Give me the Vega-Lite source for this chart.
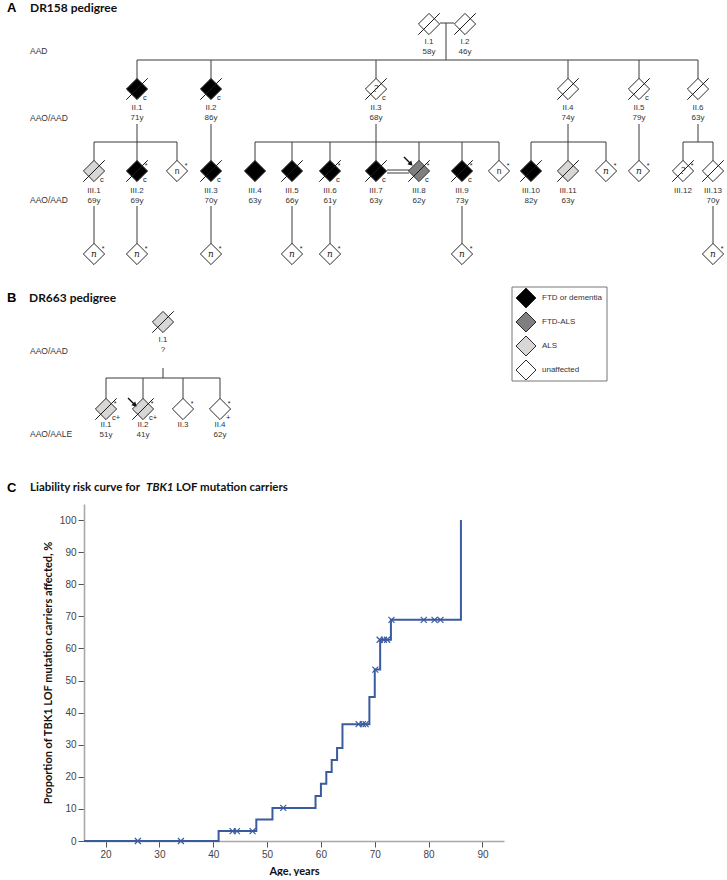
{
  "$schema": "https://vega.github.io/schema/vega-lite/v6.json",
  "padding": 0,
  "spacing": 3,
  "background": "white",
  "config": {
    "view": {"stroke": null},
    "font": "Liberation Sans",
    "axis": {
      "grid": false,
      "domainColor": "#a8a8a8",
      "domainWidth": 1.6,
      "tickColor": "#555555",
      "tickSize": 6,
      "labelPadding": 2,
      "labelFont": "Liberation Sans",
      "labelFontSize": 10,
      "labelColor": "#444444",
      "titleFont": "Lato",
      "titleFontWeight": "bold",
      "titleFontSize": 11,
      "titleColor": "#111111",
      "titlePadding": 6
    }
  },
  "datasets": {
    "lines": [
      {"x": 440, "y": 23, "x2": 454, "y2": 23},
      {"x": 446, "y": 23, "x2": 446, "y2": 60},
      {"x": 137, "y": 60, "x2": 698, "y2": 60},
      {"x": 137, "y": 60, "x2": 137, "y2": 79},
      {"x": 211, "y": 60, "x2": 211, "y2": 79},
      {"x": 376, "y": 60, "x2": 376, "y2": 79},
      {"x": 568, "y": 60, "x2": 568, "y2": 79},
      {"x": 639, "y": 60, "x2": 639, "y2": 79},
      {"x": 698, "y": 60, "x2": 698, "y2": 79},
      {"x": 137, "y": 124, "x2": 137, "y2": 161},
      {"x": 94, "y": 142, "x2": 177, "y2": 142},
      {"x": 94, "y": 142, "x2": 94, "y2": 161},
      {"x": 177, "y": 142, "x2": 177, "y2": 161},
      {"x": 211, "y": 124, "x2": 211, "y2": 161},
      {"x": 376, "y": 124, "x2": 376, "y2": 161},
      {"x": 255, "y": 142, "x2": 499, "y2": 142},
      {"x": 255, "y": 142, "x2": 255, "y2": 161},
      {"x": 292, "y": 142, "x2": 292, "y2": 161},
      {"x": 330, "y": 142, "x2": 330, "y2": 161},
      {"x": 419, "y": 142, "x2": 419, "y2": 161},
      {"x": 462, "y": 142, "x2": 462, "y2": 161},
      {"x": 499, "y": 142, "x2": 499, "y2": 161},
      {"x": 387, "y": 170, "x2": 409, "y2": 170},
      {"x": 387, "y": 173, "x2": 409, "y2": 173},
      {"x": 568, "y": 124, "x2": 568, "y2": 161},
      {"x": 531, "y": 142, "x2": 606, "y2": 142},
      {"x": 531, "y": 142, "x2": 531, "y2": 161},
      {"x": 606, "y": 142, "x2": 606, "y2": 161},
      {"x": 639, "y": 124, "x2": 639, "y2": 161},
      {"x": 698, "y": 124, "x2": 698, "y2": 142},
      {"x": 683, "y": 142, "x2": 713, "y2": 142},
      {"x": 683, "y": 142, "x2": 683, "y2": 161},
      {"x": 713, "y": 142, "x2": 713, "y2": 161},
      {"x": 94, "y": 206, "x2": 94, "y2": 244},
      {"x": 137, "y": 206, "x2": 137, "y2": 244},
      {"x": 211, "y": 206, "x2": 211, "y2": 244},
      {"x": 292, "y": 206, "x2": 292, "y2": 244},
      {"x": 330, "y": 206, "x2": 330, "y2": 244},
      {"x": 462, "y": 206, "x2": 462, "y2": 244},
      {"x": 713, "y": 206, "x2": 713, "y2": 244},
      {"x": 163, "y": 368, "x2": 163, "y2": 378},
      {"x": 106, "y": 378, "x2": 220, "y2": 378},
      {"x": 106, "y": 378, "x2": 106, "y2": 399},
      {"x": 143, "y": 378, "x2": 143, "y2": 399},
      {"x": 183, "y": 378, "x2": 183, "y2": 399},
      {"x": 220, "y": 378, "x2": 220, "y2": 399}
    ],
    "nodes": [
      {"id": "I.1", "x": 429, "y": 24, "s": "unaffected", "d": 1, "ly": 42, "age": "58y"},
      {"id": "I.2", "x": 465, "y": 24, "s": "unaffected", "d": 1, "ly": 42, "age": "46y"},
      {"id": "II.1", "x": 137, "y": 89, "s": "FTD or dementia", "d": 1, "ly": 108, "age": "71y", "ann": "c"},
      {"id": "II.2", "x": 211, "y": 89, "s": "FTD or dementia", "d": 1, "ly": 108, "age": "86y", "ann": "c"},
      {"id": "II.3", "x": 376, "y": 89, "s": "unaffected", "d": 1, "ly": 108, "age": "68y", "ann": "c", "inner": "?", "it": 1},
      {"id": "II.4", "x": 568, "y": 89, "s": "unaffected", "d": 1, "ly": 108, "age": "74y"},
      {"id": "II.5", "x": 639, "y": 89, "s": "unaffected", "d": 1, "ly": 108, "age": "79y", "ann": "c"},
      {"id": "II.6", "x": 698, "y": 89, "s": "unaffected", "d": 1, "ly": 108, "age": "63y"},
      {"id": "III.1", "x": 94, "y": 171, "s": "ALS", "d": 1, "ly": 191, "age": "69y", "ann": "c"},
      {"id": "III.2", "x": 137, "y": 171, "s": "FTD or dementia", "d": 1, "ly": 191, "age": "69y", "ann": "c", "star": 1},
      {"x": 177, "y": 171, "s": "unaffected", "inner": "n", "star": 1},
      {"id": "III.3", "x": 211, "y": 171, "s": "FTD or dementia", "d": 1, "ly": 191, "age": "70y", "ann": "c"},
      {"id": "III.4", "x": 255, "y": 171, "s": "FTD or dementia", "ly": 191, "age": "63y"},
      {"id": "III.5", "x": 292, "y": 171, "s": "FTD or dementia", "d": 1, "ly": 191, "age": "66y"},
      {"id": "III.6", "x": 330, "y": 171, "s": "FTD or dementia", "d": 1, "ly": 191, "age": "61y", "ann": "c", "star": 1},
      {"id": "III.7", "x": 376, "y": 171, "s": "FTD or dementia", "d": 1, "ly": 191, "age": "63y", "ann": "c"},
      {"id": "III.8", "x": 419, "y": 171, "s": "FTD-ALS", "d": 1, "ly": 191, "age": "62y", "ann": "c", "star": 1},
      {"id": "III.9", "x": 462, "y": 171, "s": "FTD or dementia", "d": 1, "ly": 191, "age": "73y", "ann": "c", "star": 1},
      {"x": 499, "y": 171, "s": "unaffected", "inner": "n", "star": 1},
      {"id": "III.10", "x": 531, "y": 171, "s": "FTD or dementia", "d": 1, "ly": 191, "age": "82y"},
      {"id": "III.11", "x": 568, "y": 171, "s": "ALS", "d": 1, "ly": 191, "age": "63y"},
      {"x": 606, "y": 171, "s": "unaffected", "inner": "n", "it": 1, "star": 1},
      {"x": 639, "y": 171, "s": "unaffected", "inner": "n", "it": 1, "star": 1},
      {"id": "III.12", "x": 683, "y": 171, "s": "unaffected", "d": 1, "ly": 191, "inner": "?", "it": 1, "star": 1},
      {"id": "III.13", "x": 713, "y": 171, "s": "unaffected", "d": 1, "ly": 191, "age": "70y"},
      {"x": 94, "y": 254, "s": "unaffected", "inner": "n", "it": 1, "star": 1},
      {"x": 137, "y": 254, "s": "unaffected", "inner": "n", "it": 1, "star": 1},
      {"x": 211, "y": 254, "s": "unaffected", "inner": "n", "it": 1, "star": 1},
      {"x": 292, "y": 254, "s": "unaffected", "inner": "n", "it": 1, "star": 1},
      {"x": 330, "y": 254, "s": "unaffected", "inner": "n", "it": 1, "star": 1},
      {"x": 462, "y": 254, "s": "unaffected", "inner": "n", "it": 1, "star": 1},
      {"x": 713, "y": 254, "s": "unaffected", "inner": "n", "it": 1, "star": 1},
      {"id": "I.1", "x": 163, "y": 322, "s": "ALS", "d": 1, "ly": 340, "age": "?"},
      {"id": "II.1", "x": 106, "y": 409, "s": "ALS", "d": 1, "ly": 425, "age": "51y", "ann": "c+", "star": 1},
      {"id": "II.2", "x": 143, "y": 409, "s": "ALS", "d": 1, "ly": 425, "age": "41y", "ann": "c+", "star": 1},
      {"id": "II.3", "x": 183, "y": 409, "s": "unaffected", "ly": 425, "star": 1},
      {"id": "II.4", "x": 220, "y": 409, "s": "unaffected", "ly": 425, "age": "62y", "ann": "+", "star": 1}
    ],
    "arrows": [
      {"x": 404, "y": 157, "x2": 410, "y2": 163},
      {"x": 128, "y": 398, "x2": 134, "y2": 404}
    ],
    "heads": [
      {"x": 411, "y": 164},
      {"x": 135, "y": 405}
    ],
    "legend": [
      {"x": 526, "y": 298, "s": "FTD or dementia"},
      {"x": 526, "y": 322, "s": "FTD-ALS"},
      {"x": 526, "y": 346, "s": "ALS"},
      {"x": 526, "y": 370, "s": "unaffected"}
    ],
    "box": [{"x": 512, "y": 287, "x2": 607, "y2": 381}],
    "words": [
      {"t": "A", "x": 7, "y": 8, "k": "L"},
      {"t": "DR158 pedigree", "x": 30, "y": 8, "k": "T"},
      {"t": "B", "x": 7, "y": 298, "k": "L"},
      {"t": "DR663 pedigree", "x": 29, "y": 298, "k": "T"},
      {"t": "C", "x": 7, "y": 488, "k": "L"},
      {"t": "Liability risk curve for", "x": 30, "y": 488, "k": "C"},
      {"t": "TBK1", "x": 146, "y": 488, "k": "I"},
      {"t": "LOF mutation carriers", "x": 176, "y": 488, "k": "C"},
      {"t": "AAD", "x": 30, "y": 51, "k": "G"},
      {"t": "AAO/AAD", "x": 30, "y": 118, "k": "G"},
      {"t": "AAO/AAD", "x": 30, "y": 200, "k": "G"},
      {"t": "AAO/AAD", "x": 30, "y": 351, "k": "G"},
      {"t": "AAO/AALE", "x": 30, "y": 434, "k": "G"}
    ],
    "km": [
      {"age": 16, "pct": 0},
      {"age": 41, "pct": 3.1},
      {"age": 48, "pct": 6.7},
      {"age": 51, "pct": 10.3},
      {"age": 59, "pct": 14.0},
      {"age": 60, "pct": 17.8},
      {"age": 61, "pct": 21.5},
      {"age": 62, "pct": 25.2},
      {"age": 63, "pct": 29.0},
      {"age": 64, "pct": 36.4},
      {"age": 69, "pct": 44.9},
      {"age": 70, "pct": 53.4},
      {"age": 71, "pct": 62.7},
      {"age": 73, "pct": 68.9},
      {"age": 86, "pct": 100}
    ],
    "cens": [
      {"age": 26, "pct": 0},
      {"age": 34, "pct": 0},
      {"age": 43.6, "pct": 3.1},
      {"age": 44.4, "pct": 3.1},
      {"age": 47.3, "pct": 3.1},
      {"age": 53, "pct": 10.3},
      {"age": 67, "pct": 36.4},
      {"age": 67.8, "pct": 36.4},
      {"age": 68.3, "pct": 36.4},
      {"age": 70.1, "pct": 53.4},
      {"age": 70.9, "pct": 62.7},
      {"age": 71.7, "pct": 62.7},
      {"age": 72.3, "pct": 62.7},
      {"age": 73.1, "pct": 68.9},
      {"age": 79.1, "pct": 68.9},
      {"age": 81.1, "pct": 68.9},
      {"age": 82.2, "pct": 68.9}
    ]
  },
  "vconcat": [
    {
      "width": 727,
      "height": 500,
      "encoding": {
        "x": {"field": "x", "type": "quantitative", "scale": {"domain": [0, 727], "nice": false, "zero": false}, "axis": null},
        "y": {"field": "y", "type": "quantitative", "scale": {"domain": [0, 500], "nice": false, "zero": false, "reverse": true}, "axis": null}
      },
      "layer": [
        {
          "data": {"name": "lines"},
          "mark": {"type": "rule", "color": "#3a3a3a", "strokeWidth": 1},
          "encoding": {"x2": {"field": "x2"}, "y2": {"field": "y2"}}
        },
        {
          "data": {"name": "box"},
          "mark": {"type": "rect", "fill": "white", "stroke": "#777777", "strokeWidth": 1},
          "encoding": {"x2": {"field": "x2"}, "y2": {"field": "y2"}}
        },
        {
          "data": {"name": "nodes"},
          "mark": {"type": "point", "shape": "diamond", "size": 450, "filled": true, "opacity": 1, "stroke": "#2a2a2a", "strokeWidth": 1},
          "encoding": {
            "fill": {"field": "s", "type": "nominal", "legend": null,
              "scale": {"domain": ["FTD or dementia", "FTD-ALS", "ALS", "unaffected"], "range": ["#000000", "#7f7f7f", "#d9d7d5", "#ffffff"]}}
          }
        },
        {
          "data": {"name": "nodes"},
          "transform": [{"filter": "datum.d == 1"}],
          "mark": {"type": "point", "shape": "M-1,1L1,-1", "size": 460, "filled": false, "opacity": 1, "color": "#1a1a1a", "strokeWidth": 1}
        },
        {
          "data": {"name": "nodes"},
          "transform": [{"filter": "datum.inner && !datum.it"}],
          "mark": {"type": "text", "fontSize": 8.5, "baseline": "middle", "color": "#222222"},
          "encoding": {"text": {"field": "inner"}}
        },
        {
          "data": {"name": "nodes"},
          "transform": [{"filter": "datum.inner && datum.it"}],
          "mark": {"type": "text", "fontSize": 9, "fontStyle": "italic", "font": "DejaVu Serif", "baseline": "middle", "color": "#222222"},
          "encoding": {"text": {"field": "inner"}}
        },
        {
          "data": {"name": "nodes"},
          "transform": [{"filter": "datum.id"}],
          "mark": {"type": "text", "fontSize": 8, "baseline": "middle", "color": "#333333"},
          "encoding": {"y": {"field": "ly", "type": "quantitative"}, "text": {"field": "id"}}
        },
        {
          "data": {"name": "nodes"},
          "transform": [{"filter": "datum.age"}],
          "mark": {"type": "text", "fontSize": 8, "baseline": "middle", "dy": 10, "color": "#333333"},
          "encoding": {"y": {"field": "ly", "type": "quantitative"}, "text": {"field": "age"}}
        },
        {
          "data": {"name": "nodes"},
          "transform": [{"filter": "datum.ann"}],
          "mark": {"type": "text", "fontSize": 7.5, "align": "left", "baseline": "middle", "dx": 6, "dy": 9, "color": "#222222"},
          "encoding": {"text": {"field": "ann"}}
        },
        {
          "data": {"name": "nodes"},
          "transform": [{"filter": "datum.star == 1"}],
          "mark": {"type": "text", "fontSize": 7, "baseline": "middle", "dx": 9, "dy": -5, "color": "#222222", "text": "*"}
        },
        {
          "data": {"name": "arrows"},
          "mark": {"type": "rule", "color": "#111111", "strokeWidth": 1.4},
          "encoding": {"x2": {"field": "x2"}, "y2": {"field": "y2"}}
        },
        {
          "data": {"name": "heads"},
          "mark": {"type": "point", "shape": "triangle-up", "angle": 135, "size": 30, "filled": true, "opacity": 1, "color": "#111111"}
        },
        {
          "data": {"name": "legend"},
          "mark": {"type": "point", "shape": "diamond", "size": 400, "filled": true, "opacity": 1, "stroke": "#2a2a2a", "strokeWidth": 1},
          "encoding": {"fill": {"field": "s", "type": "nominal", "legend": null}}
        },
        {
          "data": {"name": "legend"},
          "mark": {"type": "text", "fontSize": 8, "align": "left", "baseline": "middle", "dx": 16, "color": "#333333"},
          "encoding": {"text": {"field": "s"}}
        },
        {
          "data": {"name": "words"},
          "transform": [{"filter": "datum.k == 'L'"}],
          "mark": {"type": "text", "fontSize": 13, "fontWeight": "bold", "align": "left", "baseline": "middle", "color": "#000000"},
          "encoding": {"text": {"field": "t"}}
        },
        {
          "data": {"name": "words"},
          "transform": [{"filter": "datum.k == 'T'"}],
          "mark": {"type": "text", "font": "Lato", "fontSize": 12, "fontWeight": "bold", "align": "left", "baseline": "middle", "color": "#111111"},
          "encoding": {"text": {"field": "t"}}
        },
        {
          "data": {"name": "words"},
          "transform": [{"filter": "datum.k == 'C'"}],
          "mark": {"type": "text", "font": "Lato", "fontSize": 11.5, "fontWeight": "bold", "align": "left", "baseline": "middle", "color": "#111111"},
          "encoding": {"text": {"field": "t"}}
        },
        {
          "data": {"name": "words"},
          "transform": [{"filter": "datum.k == 'I'"}],
          "mark": {"type": "text", "font": "Lato", "fontSize": 11.5, "fontWeight": "bold", "fontStyle": "italic", "align": "left", "baseline": "middle", "color": "#111111"},
          "encoding": {"text": {"field": "t"}}
        },
        {
          "data": {"name": "words"},
          "transform": [{"filter": "datum.k == 'G'"}],
          "mark": {"type": "text", "fontSize": 8.5, "align": "left", "baseline": "middle", "color": "#333333"},
          "encoding": {"text": {"field": "t"}}
        }
      ]
    },
    {
      "spacing": 0,
      "hconcat": [
        {
          "width": 42,
          "height": 10,
          "data": {"values": [{}]},
          "mark": {"type": "text", "text": ""},
          "encoding": {}
        },
        {
          "width": 420,
          "height": 337,
          "encoding": {
            "x": {"field": "age", "type": "quantitative", "scale": {"domain": [16, 94], "nice": false, "zero": false},
              "axis": {"values": [20, 30, 40, 50, 60, 70, 80, 90], "title": "Age, years"}},
            "y": {"field": "pct", "type": "quantitative", "scale": {"domain": [0, 105], "nice": false, "zero": false},
              "axis": {"values": [0, 10, 20, 30, 40, 50, 60, 70, 80, 90, 100], "labelOverlap": false, "title": "Proportion of TBK1 LOF mutation carriers affected, %"}}
          },
          "layer": [
            {
              "data": {"name": "km"},
              "mark": {"type": "line", "interpolate": "step-after", "color": "#3b5b9f", "strokeWidth": 2}
            },
            {
              "data": {"name": "cens"},
              "mark": {"type": "point", "shape": "M-1,-1L1,1M-1,1L1,-1", "size": 36, "filled": false, "opacity": 1, "color": "#3b5b9f", "strokeWidth": 1.2}
            }
          ]
        }
      ]
    }
  ]
}
